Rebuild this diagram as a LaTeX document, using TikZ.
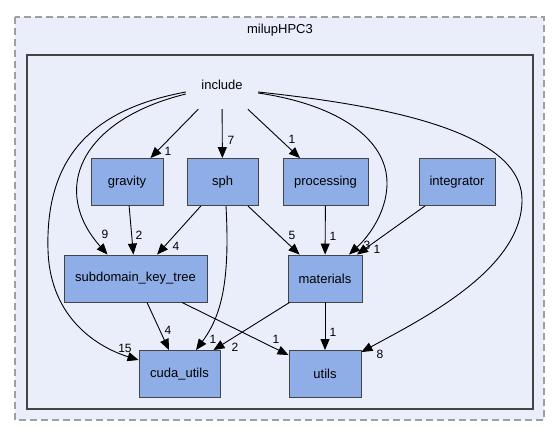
\documentclass[tikz,border=0pt]{standalone}
\usepackage{fontspec}
\setmainfont{Liberation Sans}
\usetikzlibrary{arrows.meta}

\definecolor{dirfill}{RGB}{143,174,232}
\definecolor{clusterbg}{RGB}{233,238,250}
\definecolor{dirline}{RGB}{68,68,68}

\tikzset{
    dirbox/.style={draw=dirline, fill=dirfill, line width=0.9pt, minimum height=47pt, inner sep=0pt, font=\fontsize{13}{15}\selectfont},
    dep/.style={-{Triangle[length=11pt,width=9pt]}, line width=0.9pt},
    lbl/.style={font=\fontsize{12}{14}\selectfont, inner sep=0pt}
}

\begin{document}
\begin{tikzpicture}[x=1pt, y=-1pt]
    \useasboundingbox (0,0) rectangle (560,436);
    %cluster esterno
    \draw[dash pattern=on 7pt off 4pt, draw=gray!75, fill=clusterbg, line width=1.3pt] (15,17) rectangle (544,420);
    \node[font=\fontsize{13}{15}\selectfont] (title) at (280,30) {milupHPC3};
    %cluster interno
    \draw[draw=dirline, line width=2pt, fill=clusterbg] (27,55) rectangle (533,409);
    \node[minimum width=72pt, minimum height=48pt, inner sep=0pt, font=\fontsize{13}{15}\selectfont] (include) at (222,85) {include};
    %cartelle
    \node[dirbox, minimum width=72pt] (gravity) at (127,182) {gravity};
    \node[dirbox, minimum width=71pt] (sph) at (222.5,182) {sph};
    \node[dirbox, minimum width=85pt] (processing) at (325.5,182) {processing};
    \node[dirbox, minimum width=76pt] (integrator) at (457,182) {integrator};
    \node[dirbox, minimum width=143pt] (subdomain) at (135.5,278.5) {subdomain\_key\_tree};
    \node[dirbox, minimum width=74pt] (materials) at (325,278.5) {materials};
    \node[dirbox, minimum width=81pt] (cudautils) at (179.5,374) {cuda\_utils};
    \node[dirbox, minimum width=72pt] (utils) at (325,374) {utils};
    %etichette
    \node[lbl] (l-gr) at (168,151) {1};
    \node[lbl] (l-sph) at (231,140) {7};
    \node[lbl] (l-proc) at (292,139) {1};
    \node[lbl] (l-sub) at (105,234) {9};
    \node[lbl] (l-grsub) at (139,235) {2};
    \node[lbl] (l-sphsub) at (176,246) {4};
    \node[lbl] (l-sphmat) at (292,235) {5};
    \node[lbl] (l-procmat) at (333,236) {1};
    \node[lbl] (l-mat) at (367,245) {3};
    \node[lbl] (l-intmat) at (377,249) {1};
    \node[lbl] (l-cuda) at (125,348) {15};
    \node[lbl] (l-subcuda) at (168,330) {4};
    \node[lbl] (l-sphcuda) at (213,339) {1};
    \node[lbl] (l-matcuda) at (235,347) {2};
    \node[lbl] (l-subut) at (276,339) {1};
    \node[lbl] (l-matut) at (333,332) {1};
    \node[lbl] (l-ut) at (380,354) {8};
    %frecce da include
    \draw[dep] (include) -- (gravity);
    \draw[dep] (include) -- (sph);
    \draw[dep] (include) -- (processing);
    \draw[dep] ([yshift=-9pt]include.west) .. controls (80,120) and (50,190) .. ([xshift=-28pt]subdomain.north);
    \draw[dep] ([yshift=-7pt]include.west) .. controls (100,108) and (45,150) .. (48,250)
        .. controls (50,320) and (100,348) .. ([yshift=14pt]cudautils.west);
    \draw[dep] ([yshift=-8pt]include.east) .. controls (340,105) and (387,140) .. (387,183)
        .. controls (387,215) and (365,240) .. ([xshift=24pt]materials.north);
    \draw[dep] ([yshift=-7pt]include.east) .. controls (380,105) and (522,130) .. (522,200)
        .. controls (522,270) and (420,320) .. ([yshift=-2pt]utils.north east);
    %frecce tra cartelle
    \draw[dep] (gravity) -- (subdomain);
    \draw[dep] (sph) -- (subdomain);
    \draw[dep] (sph) -- (materials);
    \draw[dep] ([xshift=3.5pt]sph.south) .. controls (230,280) and (222,315) .. ([xshift=16.5pt]cudautils.north);
    \draw[dep] (processing) -- (materials);
    \draw[dep] ([xshift=-32pt]integrator.south) -- ([xshift=32pt]materials.north);
    \draw[dep] ([xshift=11.5pt]subdomain.south) -- ([xshift=-10.5pt]cudautils.north);
    \draw[dep] ([xshift=46.5pt]subdomain.south) -- ([yshift=-5pt]utils.north west);
    \draw[dep] ([xshift=2pt]materials.south west) -- ([xshift=-7pt]cudautils.north east);
    \draw[dep] (materials) -- (utils);
\end{tikzpicture}
\end{document}
